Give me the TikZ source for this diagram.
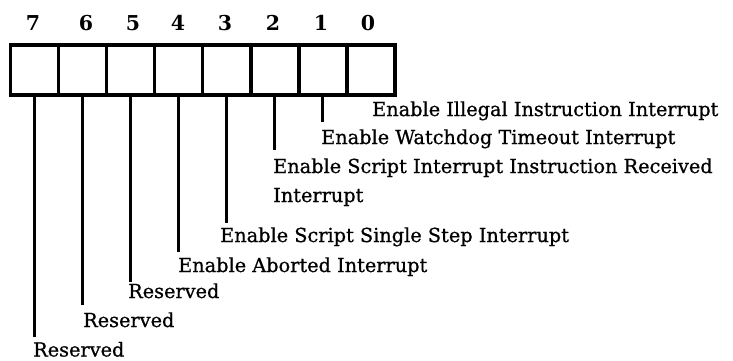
\documentclass[tikz,border=0pt]{standalone}
\usepackage{fontspec}
\setmainfont{DejaVu Serif}
\newfontfamily\labelfont{DejaVu Serif}[FakeBold=0.8]
\begin{document}
\begin{tikzpicture}[x=1pt,y=1pt,
  cell/.style={draw, line width=3.4pt, minimum width=48.06pt, minimum height=50pt,
               inner sep=0pt, outer sep=0pt},
  bitno/.style={anchor=base, inner sep=0pt, font=\fontsize{20.5}{24}\selectfont\bfseries},
  lbl/.style={anchor=base west, inner sep=0pt, align=left,
              font=\fontsize{19.3}{29}\selectfont\labelfont},
  leader/.style={line width=3.2pt}]
\useasboundingbox (0,0) rectangle (733,-360);

% register cells, bit 7 on the left
\foreach \b [count=\i from 0] in {7,6,5,4,3,2,1,0}
  \node[cell] (c\b) at (34.53+48.06*\i,-70) {};

% bit numbers
\node[bitno] (b7) at (33,-30) {7};
\node[bitno] (b6) at (86,-30) {6};
\node[bitno] (b5) at (133,-30) {5};
\node[bitno] (b4) at (178,-30) {4};
\node[bitno] (b3) at (225,-30) {3};
\node[bitno] (b2) at (273,-30) {2};
\node[bitno] (b1) at (321,-30) {1};
\node[bitno] (b0) at (368,-30) {0};

% field descriptions (a two-line node is anchored on its last line)
\node[lbl] (l0) at (372,-116) {Enable Illegal Instruction Interrupt};
\node[lbl] (l1) at (321,-144) {Enable Watchdog Timeout Interrupt};
\node[lbl] (l2) at (273,-202) {Enable Script Interrupt Instruction Received\\Interrupt};
\node[lbl] (l3) at (220,-242) {Enable Script Single Step Interrupt};
\node[lbl] (l4) at (178,-272) {Enable Aborted Interrupt};
\node[lbl] (l5) at (128,-298) {Reserved};
\node[lbl] (l6) at (83,-327) {Reserved};
\node[lbl] (l7) at (33,-356.5) {Reserved};

% leader ends
\path (c1.south) ++(0,-27) coordinate (e1);
\path (c2.south) ++(0,-55) coordinate (e2);
\path (c3.south) ++(0,-128) coordinate (e3);
\path (c4.south) ++(0,-157) coordinate (e4);
\path (c5.south) ++(0,-187) coordinate (e5);
\path (c6.south) ++(0,-210) coordinate (e6);
\path (c7.south) ++(0,-242) coordinate (e7);

% leaders from each bit down to its description
\foreach \b in {1,...,7}
  \draw[leader] (c\b.south) -- (e\b);
\end{tikzpicture}
\end{document}
